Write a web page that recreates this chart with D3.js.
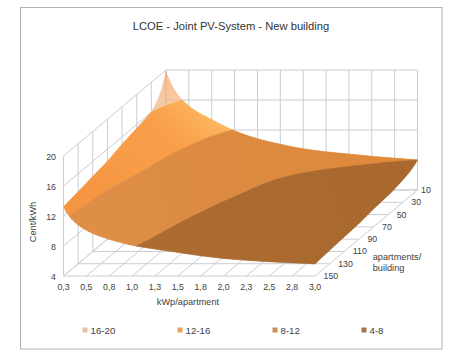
<!DOCTYPE html>
<html><head><meta charset="utf-8">
<script src="https://d3js.org/d3.v7.min.js"></script>
<style>html,body{margin:0;padding:0;background:#fff}svg{display:block}text{font-family:"Liberation Sans",Arial,sans-serif;fill:#404040}</style>
</head><body><div id="c"></div>
<script>
const kWpCategories=["0,3","0,5","0,8","1,0","1,3","1,5","1,8","2,0","2,3","2,5","2,8","3,0"];
const apartmentCategories=[10,30,50,70,90,110,130,150];
const centTicks=[4,8,12,16,20];
const legendLabels=["16-20","12-16","8-12","4-8"];
const apt10 =[19.7,15.2,13.4,11.9,10.85,10.1,9.5,9.1,8.8,8.5,8.25,8.0];
const apt30 =[16.1,13.6,12.0,10.7,9.7,8.9,8.3,7.95,7.7,7.5,7.25,7.0];
const apt50 =[15.5,12.8,11.3,10.0,9.0,8.3,7.75,7.4,7.12,6.92,6.75,6.6];
const apt70 =[15.0,12.4,10.8,9.5,8.55,7.95,7.45,7.1,6.85,6.65,6.5,6.4];
const apt90 =[14.4,11.8,10.3,9.15,8.25,7.65,7.2,6.85,6.6,6.4,6.25,6.1];
const apt110=[14.0,11.1,9.8,8.75,7.95,7.45,7.0,6.65,6.4,6.2,6.05,5.95];
const apt130=[13.6,10.6,9.35,8.4,7.75,7.25,6.8,6.45,6.25,6.05,5.9,5.8];
const apt150=[13.2,10.1,8.9,8.1,7.6,7.15,6.7,6.35,6.1,5.9,5.75,5.6];
const surface=[apt10,apt30,apt50,apt70,apt90,apt110,apt130,apt150];

const W=452,H=360;
const svg=d3.select("#c").append("svg").attr("width",W).attr("height",H);
const defs=svg.append("defs");
svg.append("rect").attr("x",20.5).attr("y",7.5).attr("width",421.5).attr("height",341.5)
  .attr("fill","#fff").attr("stroke","#b4b4b4").attr("stroke-width",1);

const xS=d3.scalePoint(kWpCategories,[63.5,315]);
const zS=d3.scaleLinear([4,20],[276,156]);
const ox=d3.scalePoint(apartmentCategories,[102.5,0]);
const oy=d3.scalePoint(apartmentCategories,[-86,0]);
const xU=d3.scaleLinear([0,kWpCategories.length-1],[63.5,315]);
const dU=d3.scaleLinear([0,apartmentCategories.length-1],[102.5,0]);
const dV=d3.scaleLinear([0,apartmentCategories.length-1],[-86,0]);
const px=(u,v)=>xU(u)+dU(v), py=(v,z)=>zS(z)+dV(v);

// grid walls
const g=svg.append("g").attr("stroke","#c9cdd4").attr("stroke-width",1).attr("fill","none");
const ln=(x1,y1,x2,y2)=>g.append("line").attr("x1",x1).attr("y1",y1).attr("x2",x2).attr("y2",y2);
const a0=apartmentCategories[0],aN=apartmentCategories[apartmentCategories.length-1];
const k0=kWpCategories[0],kN=kWpCategories[kWpCategories.length-1];
kWpCategories.forEach(k=>{
  ln(xS(k)+ox(a0),zS(4)+oy(a0),xS(k)+ox(a0),zS(20)+oy(a0));
  ln(xS(k),zS(4),xS(k)+ox(a0),zS(4)+oy(a0));
});
apartmentCategories.forEach(a=>{
  ln(xS(k0)+ox(a),zS(4)+oy(a),xS(k0)+ox(a),zS(20)+oy(a));
  ln(xS(k0)+ox(a),zS(4)+oy(a),xS(kN)+ox(a),zS(4)+oy(a));
});
centTicks.forEach(t=>{
  ln(xS(k0)+ox(aN),zS(t),xS(k0)+ox(a0),zS(t)+oy(a0));
  ln(xS(k0)+ox(a0),zS(t)+oy(a0),xS(kN)+ox(a0),zS(t)+oy(a0));
});

// monotone cubic evaluation of the table, used only to draw a smooth surface
function slopes(y){const n=y.length,d=[],m=new Array(n);
  for(let i=0;i<n-1;i++)d.push(y[i+1]-y[i]);
  for(let i=1;i<n-1;i++)m[i]=d[i-1]*d[i]<=0?0:2*d[i-1]*d[i]/(d[i-1]+d[i]);
  m[0]=(3*d[0]-m[1])/2*1.5;
  m[n-1]=(3*d[n-2]-m[n-2])/2*1.5;
  return m;}
function herm(y,m,t){const n=y.length-1;let i=Math.min(Math.floor(t),n-1);if(i<0)i=0;const s=t-i,s2=s*s,s3=s2*s;
  return (2*s3-3*s2+1)*y[i]+(s3-2*s2+s)*m[i]+(-2*s3+3*s2)*y[i+1]+(s3-s2)*m[i+1];}
const SUB=8;
const nu=(kWpCategories.length-1)*SUB, nv=(apartmentCategories.length-1)*SUB;
const rowSl=surface.map(slopes);
const Z=[];
for(let iu=0;iu<=nu;iu++){const u=iu/SUB;
  const col=surface.map((r,k)=>herm(r,rowSl[k],u)), ms=slopes(col);
  const c=[];for(let iv=0;iv<=nv;iv++)c.push(herm(col,ms,iv/SUB));Z.push(c);}

const bands=[
 {lo:16,hi:20,fill:"url(#b0)",op:0.72},
 {lo:12,hi:16,fill:"url(#b1)",op:1},
 {lo:8,hi:12,fill:"url(#b2)",op:1},
 {lo:4,hi:8,fill:"url(#b3)",op:1}];
function grad(id,x1,y1,x2,y2,stops){const l=defs.append("linearGradient").attr("id",id).attr("gradientUnits","userSpaceOnUse")
  .attr("x1",x1).attr("y1",y1).attr("x2",x2).attr("y2",y2);
  stops.forEach(s=>l.append("stop").attr("offset",s[0]).attr("stop-color",s[1]));}
grad("b0",165,75,165,115,[[0,"#f5a76a"],[1,"#f6be90"]]);
grad("b1",195,100,110,200,[[0,"#fcb65f"],[0.3,"#f9a04c"],[1,"#f59742"]]);
grad("b2",90,215,400,150,[[0,"#de8e47"],[0.5,"#dc8a40"],[1,"#e08a3a"]]);
grad("b3",150,250,410,165,[[0,"#ab6b31"],[1,"#a8682e"]]);

function clip(poly,lv,keepAbove){const out=[];
  for(let i=0;i<poly.length;i++){const a=poly[i],b=poly[(i+1)%poly.length];
    const ai=keepAbove?a[2]>=lv:a[2]<=lv, bi=keepAbove?b[2]>=lv:b[2]<=lv;
    if(ai)out.push(a);
    if(ai!==bi){const t=(lv-a[2])/(b[2]-a[2]);out.push([a[0]+t*(b[0]-a[0]),a[1]+t*(b[1]-a[1]),lv]);}}
  return out;}
bands.forEach(b=>{
  const p=d3.path();
  for(let iu=0;iu<nu;iu++)for(let iv=0;iv<nv;iv++){
    const P=(a,c)=>[a/SUB,c/SUB,Z[a][c]];
    const q=[P(iu,iv),P(iu+1,iv),P(iu+1,iv+1),P(iu,iv+1)];
    [[q[0],q[1],q[2]],[q[0],q[2],q[3]]].forEach(tri=>{
      let c=clip(clip(tri,b.lo,true),b.hi,false);
      if(c.length<3)return;
      c.forEach((v,i)=>{const X=px(v[0],v[1]),Y=py(v[1],v[2]);i?p.lineTo(X,Y):p.moveTo(X,Y);});
      p.closePath();});
  }
  svg.append("path").attr("d",p.toString()).attr("fill",b.fill).attr("stroke",b.fill)
    .attr("stroke-width",0.6).attr("stroke-linejoin","round").attr("opacity",b.op);
});

// text
const T=(x,y,s,size,anchor)=>svg.append("text").attr("x",x).attr("y",y).attr("font-size",size)
  .attr("text-anchor",anchor||"start").attr("dominant-baseline","central").text(s);
T(231,26,"LCOE - Joint PV-System - New building",11.2,"middle").style("fill","#333");
centTicks.forEach(t=>T(56,zS(t)+0.5,t,8.8,"end"));
kWpCategories.forEach(k=>T(xS(k),287,k,8.8,"middle"));
apartmentCategories.forEach(a=>T(xS(kN)+ox(a)+(a===a0?3.5:8.5),zS(4)+oy(a),a,8.8));
T(188,301.5,"kWp/apartment",9.2,"middle");
svg.append("text").attr("transform","translate(32.5,222) rotate(-90)").attr("text-anchor","middle")
  .attr("dominant-baseline","central").attr("font-size",9.2).text("Cent/kWh");
T(372.7,257,"apartments/",9.2);
T(372.7,268,"building",9.2);
const legendColors=["#e9c0a0","#e8a45c","#c98f58","#a87444"];
const legendXs=[85,180,275,364];
legendLabels.forEach((s,i)=>{
  svg.append("rect").attr("x",legendXs[i]-2.5).attr("y",327.5).attr("width",5).attr("height",5).attr("fill",legendColors[i]);
  T(legendXs[i]+5.5,330,s,9.7);
});
</script></body></html>
